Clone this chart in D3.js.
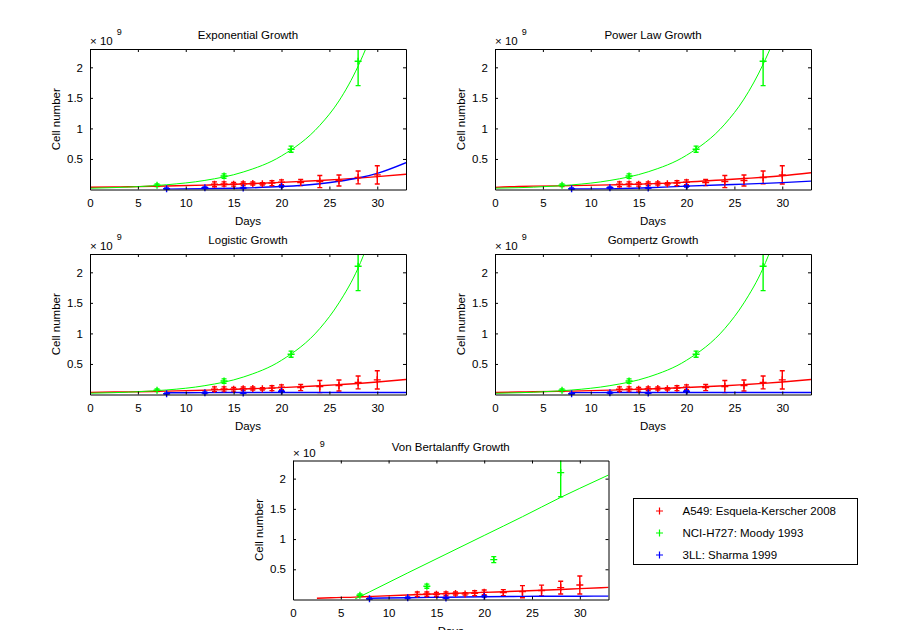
<!DOCTYPE html>
<html>
<head>
<meta charset="utf-8">
<script src="https://cdn.jsdelivr.net/npm/d3@7"></script>
<style>
  body { margin: 0; background: #fff; }
  svg { display: block; font-family: "Liberation Sans", Arial, sans-serif; }
</style>
</head>
<body>
<svg id="chart" width="900" height="630"></svg>
<script>
// cell numbers are in units of 1e9

// measured data
const a549Days = [13, 14, 15, 16, 17, 18, 19, 20, 22, 24, 26, 28, 30];
const a549Mean = [0.085, 0.09, 0.085, 0.093, 0.099, 0.093, 0.104, 0.118, 0.114, 0.13, 0.148, 0.197, 0.24];
const a549Err  = [0.04, 0.035, 0.03, 0.03, 0.025, 0.02, 0.04, 0.04, 0.05, 0.1, 0.09, 0.105, 0.15];

const h727Days = [7, 14, 21, 28];
const h727Mean = [0.07, 0.22, 0.66, 2.1];
const h727Err  = [0.02, 0.035, 0.05, 0.4];

const llcDays = [8, 12, 16, 20];
const llcMean = [0.012, 0.028, 0.025, 0.052];
const llcErr  = [0.012, 0.015, 0.01, 0.012];

// fitted curves, sampled on a shared day grid (null = not drawn)
const fitDays = [0, 2.5, 4, 6.5, 8, 12, 16, 20, 24, 26, 28, 30, 33];

const expA549 = [0.036, 0.042, 0.045, 0.052, 0.057, 0.072, 0.091, 0.116, 0.147, 0.166, 0.187, 0.21, 0.25];
const expH727 = [0.021, 0.031, 0.040, 0.06, 0.078, 0.149, 0.286, 0.55, 1.05, 1.45, 2.02, 2.8, 4.5];
const expLlc  = [null, null, null, null, 0.006, 0.012, 0.024, 0.048, 0.095, 0.134, 0.188, 0.265, 0.44];

const powA549 = [0.035, 0.05, 0.055, 0.06, 0.063, 0.075, 0.092, 0.12, 0.16, 0.18, 0.2, 0.225, 0.275];
const powH727 = [0.022, 0.03, 0.038, 0.058, 0.075, 0.148, 0.29, 0.56, 1.07, 1.48, 2.05, 2.8, 4.3];
const powLlc  = [null, null, null, null, 0.008, 0.01, 0.028, 0.055, 0.078, 0.088, 0.1, 0.113, 0.137];

const logA549 = [0.034, 0.04, 0.043, 0.05, 0.055, 0.07, 0.089, 0.113, 0.143, 0.161, 0.181, 0.204, 0.245];
const logH727 = [0.021, 0.03, 0.038, 0.058, 0.074, 0.145, 0.285, 0.56, 1.08, 1.5, 2.07, 2.9, 4.5];
const logLlc  = [null, null, null, null, 0.028, 0.031, 0.032, 0.033, 0.033, 0.033, 0.033, 0.033, 0.033];

const gomA549 = [0.033, 0.04, 0.044, 0.051, 0.056, 0.071, 0.09, 0.114, 0.144, 0.162, 0.182, 0.205, 0.245];
const gomH727 = [0.02, 0.029, 0.037, 0.057, 0.073, 0.145, 0.285, 0.56, 1.08, 1.5, 2.07, 2.9, 4.5];
const gomLlc  = [null, null, null, null, 0.03, 0.032, 0.033, 0.033, 0.033, 0.033, 0.033, 0.033, 0.033];

const vbA549 = [null, 0.02, 0.03, 0.04, 0.05, 0.075, 0.097, 0.118, 0.14, 0.152, 0.165, 0.18, 0.2];
const vbH727 = [null, null, null, 0.01, 0.125, 0.44, 0.75, 1.06, 1.37, 1.53, 1.69, 1.84, 2.06];
const vbLlc  = [null, null, null, null, 0.02, 0.03, 0.038, 0.045, 0.052, 0.054, 0.055, 0.055, 0.056];

const xTicks = [0, 5, 10, 15, 20, 25, 30];
const yTicks = [0.5, 1, 1.5, 2];
const legendLabels = ["A549: Esquela-Kerscher 2008", "NCI-H727: Moody 1993", "3LL: Sharma 1999"];

const red = "#ff0000", green = "#00ff00", blue = "#0000ff";

const series = [
  { days: a549Days, mean: a549Mean, err: a549Err, color: red },
  { days: h727Days, mean: h727Mean, err: h727Err, color: green },
  { days: llcDays,  mean: llcMean,  err: llcErr,  color: blue }
];

const panels = [
  { title: "Exponential Growth",    fits: [expA549, expH727, expLlc], x: 90,  y: 49,    w: 316, h: 140.5 },
  { title: "Power Law Growth",      fits: [powA549, powH727, powLlc], x: 495, y: 49,    w: 316, h: 140.5 },
  { title: "Logistic Growth",       fits: [logA549, logH727, logLlc], x: 90,  y: 254,   w: 316, h: 140.5 },
  { title: "Gompertz Growth",       fits: [gomA549, gomH727, gomLlc], x: 495, y: 254,   w: 316, h: 140.5 },
  { title: "Von Bertalanffy Growth", fits: [vbA549, vbH727, vbLlc],   x: 293, y: 460.5, w: 315.5, h: 139 }
];

const svg = d3.select("#chart");
const fontSize = 11.5;

function plus(sel, size) {
  return sel.attr("d", `M${-size},0H${size}M0,${-size}V${size}`);
}

panels.forEach((p, pi) => {
  const xs = d3.scaleLinear().domain([0, 33]).range([0, p.w]);
  const ys = d3.scaleLinear().domain([0, 2.3]).range([p.h, 0]);

  const g = svg.append("g").attr("transform", `translate(${p.x},${p.y})`);

  const clipId = "clip" + pi;
  g.append("clipPath").attr("id", clipId)
    .append("rect").attr("width", p.w).attr("height", p.h);

  const plot = g.append("g").attr("clip-path", `url(#${clipId})`);

  // error bars
  series.forEach(s => {
    const eb = plot.append("g").attr("stroke", s.color).attr("stroke-width", 1.4).attr("fill", "none");
    s.days.forEach((d, i) => {
      const cx = xs(d), lo = ys(s.mean[i] - s.err[i]), hi = ys(s.mean[i] + s.err[i]);
      eb.append("path").attr("d", `M${cx},${lo}V${hi}M${cx - 2.5},${lo}H${cx + 2.5}M${cx - 2.5},${hi}H${cx + 2.5}`);
    });
  });

  // fitted curves
  const line = d3.line()
    .defined(d => d[1] != null)
    .x(d => xs(d[0]))
    .y(d => ys(d[1]))
    .curve(d3.curveMonotoneX);

  p.fits.forEach((f, fi) => {
    plot.append("path")
      .datum(fitDays.map((d, i) => [d, f[i]]))
      .attr("fill", "none")
      .attr("stroke", series[fi].color)
      .attr("stroke-width", fi === 1 ? 1 : 1.4)
      .attr("d", line);
  });

  // markers (not clipped, like MATLAB)
  series.forEach(s => {
    const mk = g.append("g").attr("stroke", s.color).attr("stroke-width", 1.4).attr("fill", "none");
    s.days.forEach((d, i) => {
      if (s.mean[i] > 2.3) return;
      mk.append("path").attr("transform", `translate(${xs(d)},${ys(s.mean[i])})`).call(plus, 3.5);
    });
  });

  // axes box with inward ticks
  const styleAxis = a => {
    a.selectAll("path.domain").attr("stroke", "#000");
    a.selectAll(".tick line").attr("stroke", "#000");
    a.selectAll(".tick text").attr("fill", "#000").style("font-size", fontSize + "px").style("font-family", "Liberation Sans, Arial, sans-serif");
  };

  g.append("g").attr("transform", `translate(0,${p.h})`)
    .call(d3.axisBottom(xs).tickValues(xTicks).tickSize(-3).tickSizeOuter(0).tickPadding(9))
    .call(styleAxis);
  g.append("g")
    .call(d3.axisTop(xs).tickValues(xTicks).tickSize(-3).tickSizeOuter(0).tickFormat(""))
    .call(styleAxis);
  g.append("g")
    .call(d3.axisLeft(ys).tickValues(yTicks).tickSize(-3).tickSizeOuter(0).tickPadding(7).tickFormat(d3.format("")))
    .call(styleAxis);
  g.append("g").attr("transform", `translate(${p.w},0)`)
    .call(d3.axisRight(ys).tickValues(yTicks).tickSize(-3).tickSizeOuter(0).tickFormat(""))
    .call(styleAxis);

  // titles and labels
  g.append("text").attr("x", p.w / 2).attr("y", -10).attr("text-anchor", "middle")
    .style("font-size", fontSize + "px").text(p.title);

  const ex = g.append("text").attr("x", 0).attr("y", -4).style("font-size", fontSize + "px");
  ex.append("tspan").text("\u00d7 10");
  ex.append("tspan").attr("dx", 4).attr("dy", -10).style("font-size", "9px").text("9");

  g.append("text").attr("x", p.w / 2).attr("y", p.h + 35).attr("text-anchor", "middle")
    .style("font-size", fontSize + "px").text("Days");

  g.append("text").attr("transform", `translate(-30,${p.h / 2}) rotate(-90)`).attr("text-anchor", "middle")
    .style("font-size", fontSize + "px").text("Cell number");
});

// legend
const lg = svg.append("g").attr("transform", "translate(633.5,498.5)");
lg.append("rect").attr("width", 224).attr("height", 66).attr("fill", "#fff").attr("stroke", "#000");
legendLabels.forEach((name, i) => {
  const cy = 12.5 + i * 22;
  lg.append("path").attr("transform", `translate(26,${cy})`).call(plus, 3.5)
    .attr("stroke", series[i].color).attr("stroke-width", 1.2).attr("fill", "none");
  lg.append("text").attr("x", 49).attr("y", cy + 4).style("font-size", fontSize + "px").text(name);
});
</script>
</body>
</html>
